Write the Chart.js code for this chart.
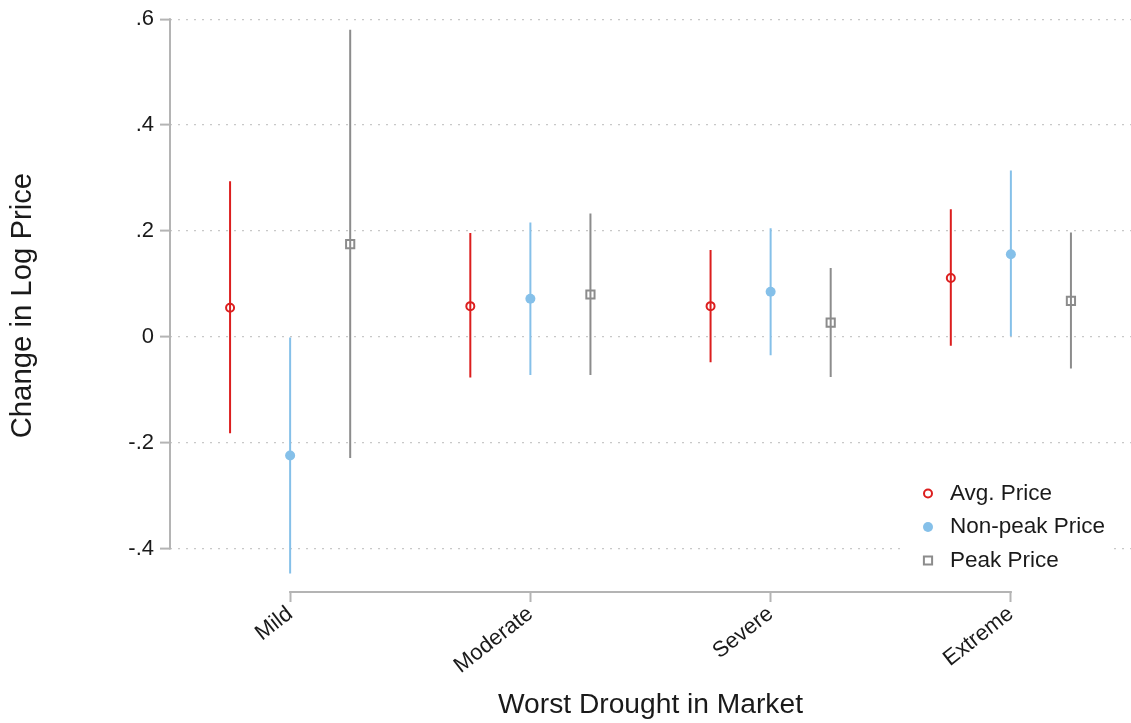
<!DOCTYPE html>
<html>
<head>
<meta charset="utf-8">
<title>Change in Log Price by Worst Drought in Market</title>
<script src="https://cdn.jsdelivr.net/npm/chart.js@4.4.1/dist/chart.umd.min.js"></script>
<style>
  html, body { margin: 0; padding: 0; background: #ffffff; }
  #wrap { width: 1131px; height: 723px; }
</style>
</head>
<body>
<div id="wrap"><canvas id="chart" width="1131" height="723"></canvas></div>
<script>
// Drought categories on the x axis
const categories = ['Mild', 'Moderate', 'Severe', 'Extreme'];

// Point estimates and confidence bounds, one entry per category
const avgEst = [0.055, 0.058, 0.058, 0.111];
const avgLo = [-0.182, -0.077, -0.048, -0.017];
const avgHi = [0.294, 0.196, 0.164, 0.241];

const nonpeakEst = [-0.224, 0.072, 0.085, 0.156];
const nonpeakLo = [-0.447, -0.072, -0.035, 0.000];
const nonpeakHi = [0.000, 0.216, 0.205, 0.314];

const peakEst = [0.175, 0.080, 0.027, 0.068];
const peakLo = [-0.229, -0.072, -0.076, -0.060];
const peakHi = [0.580, 0.233, 0.130, 0.197];

// y axis ticks and their printed labels
const yTickValues = [-0.4, -0.2, 0, 0.2, 0.4, 0.6];
const yTickLabels = ['-.4', '-.2', '0', '.2', '.4', '.6'];

// horizontal shift of each series within a category
const seriesOffset = [-0.25, 0, 0.25];

const FONT = "'Liberation Sans', Arial, Helvetica, sans-serif";
const TEXT = '#1a1a1a';
const AXIS = '#b4b4b4';
const RED = '#dc1e1e';
const BLUE = '#85c0e9';
const GRAY = '#8c8c8c';

const points = (est, k) => est.map((v, i) => ({ x: i + 1 + seriesOffset[k], y: v }));
const spans = (lo, hi, k) => lo.map((v, i) => ({ x: i + 1 + seriesOffset[k], y: [v, hi[i]] }));

const ciBar = (data, color) => ({
  type: 'bar', data, backgroundColor: color, borderWidth: 0,
  barThickness: 2, grouped: false, inflateAmount: 0, order: 2
});

// axis lines that only span the labelled range
const axisLines = {
  id: 'axisLines',
  beforeDatasetsDraw(chart) {
    const { ctx, chartArea, scales: { x, y } } = chart;
    ctx.save();
    ctx.strokeStyle = AXIS;
    ctx.lineWidth = 2;
    ctx.beginPath();
    ctx.moveTo(chartArea.left, y.getPixelForValue(yTickValues[yTickValues.length - 1]) - 1);
    ctx.lineTo(chartArea.left, y.getPixelForValue(yTickValues[0]) + 1);
    ctx.moveTo(x.getPixelForValue(1) - 1, chartArea.bottom);
    ctx.lineTo(x.getPixelForValue(categories.length) + 1, chartArea.bottom);
    ctx.stroke();
    ctx.restore();
  }
};

// legend in the lower right corner of the plot
const legendBox = {
  id: 'legendBox',
  afterDraw(chart) {
    const { ctx } = chart;
    const entries = chart.data.datasets.filter(d => d.type === 'scatter');
    ctx.save();
    ctx.fillStyle = '#ffffff';
    ctx.fillRect(906, 474, 208, 104);
    entries.forEach((d, i) => {
      const cx = 928, cy = 493.5 + i * 33.5;
      ctx.beginPath();
      if (d.pointStyle === 'rect') {
        const s = d.pointRadius * Math.SQRT1_2;
        ctx.rect(cx - s, cy - s, 2 * s, 2 * s);
      } else {
        ctx.arc(cx, cy, d.pointRadius, 0, Math.PI * 2);
      }
      if (d.pointBorderWidth > 0) {
        ctx.lineWidth = d.pointBorderWidth;
        ctx.strokeStyle = d.pointBorderColor;
        ctx.stroke();
      } else {
        ctx.fillStyle = d.pointBackgroundColor;
        ctx.fill();
      }
      ctx.fillStyle = TEXT;
      ctx.font = '22.5px ' + FONT;
      ctx.textAlign = 'left';
      ctx.textBaseline = 'middle';
      ctx.fillText(d.label, 950, cy);
    });
    ctx.restore();
  }
};

new Chart(document.getElementById('chart'), {
  type: 'scatter',
  data: {
    datasets: [
      ciBar(spans(avgLo, avgHi, 0), RED),
      ciBar(spans(nonpeakLo, nonpeakHi, 1), BLUE),
      ciBar(spans(peakLo, peakHi, 2), GRAY),
      {
        type: 'scatter', label: 'Avg. Price', data: points(avgEst, 0), order: 1,
        pointStyle: 'circle', pointRadius: 4, pointBorderWidth: 2,
        pointBorderColor: RED, pointBackgroundColor: 'rgba(255,255,255,0)'
      },
      {
        type: 'scatter', label: 'Non-peak Price', data: points(nonpeakEst, 1), order: 1,
        pointStyle: 'circle', pointRadius: 5, pointBorderWidth: 0,
        pointBorderColor: BLUE, pointBackgroundColor: BLUE
      },
      {
        type: 'scatter', label: 'Peak Price', data: points(peakEst, 2), order: 1,
        pointStyle: 'rect', pointRadius: 5.8, pointBorderWidth: 2,
        pointBorderColor: GRAY, pointBackgroundColor: 'rgba(255,255,255,0)'
      }
    ]
  },
  options: {
    responsive: false,
    animation: false,
    devicePixelRatio: 1,
    layout: { autoPadding: false, padding: { top: 14, right: 0, bottom: 0, left: 0 } },
    plugins: { legend: { display: false }, tooltip: { enabled: false } },
    events: [],
    scales: {
      x: {
        type: 'linear',
        min: 0.5,
        max: 4.5,
        offset: false,
        afterBuildTicks: s => { s.ticks = categories.map((_, i) => ({ value: i + 1 })); },
        afterFit: s => { s.height = 131; s.paddingLeft = 0; s.paddingRight = 0; },
        ticks: {
          autoSkip: false,
          minRotation: 38,
          maxRotation: 38,
          padding: -1,
          color: TEXT,
          font: { family: FONT, size: 22 },
          callback: v => categories[Math.round(v) - 1]
        },
        grid: {
          offset: false, drawOnChartArea: false, drawTicks: true,
          tickLength: 10, tickColor: AXIS, tickWidth: 2
        },
        border: { display: false },
        title: {
          display: true, text: 'Worst Drought in Market', color: TEXT,
          font: { family: FONT, size: 28.2 }, padding: { top: 0, bottom: 1 }
        }
      },
      y: {
        type: 'linear',
        min: -0.482,
        max: 0.6,
        afterBuildTicks: s => { s.ticks = yTickValues.map(v => ({ value: v })); },
        afterFit: s => { s.width = 170; },
        ticks: {
          padding: 6,
          color: TEXT,
          font: { family: FONT, size: 22 },
          callback: v => yTickLabels[yTickValues.findIndex(t => Math.abs(t - v) < 1e-9)]
        },
        grid: {
          color: '#c8c8c8', lineWidth: 1.2, drawTicks: true, tickLength: 10,
          tickColor: AXIS, tickWidth: 2, tickBorderDash: []
        },
        border: { display: false, dash: [2, 6] },
        title: {
          display: true, text: 'Change in Log Price', color: TEXT,
          font: { family: FONT, size: 29.3 }, padding: { top: 5, bottom: 0 }
        }
      }
    }
  },
  plugins: [axisLines, legendBox]
});
</script>
</body>
</html>
